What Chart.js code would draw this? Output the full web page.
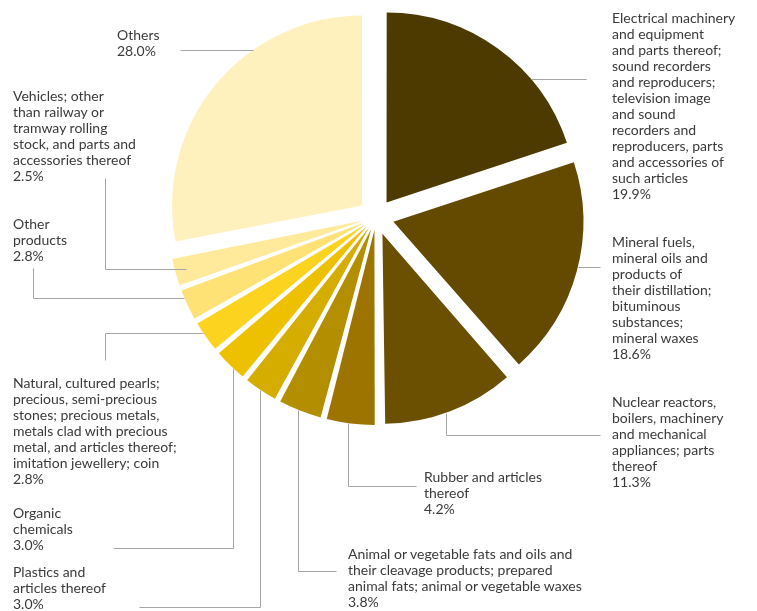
<!DOCTYPE html>
<html>
<head>
<meta charset="utf-8">
<script src="https://cdn.jsdelivr.net/npm/chart.js@4.4.1/dist/chart.umd.min.js"></script>
<style>
    body { margin: 0; background: #fff; }
    #wrap { position: relative; width: 757px; height: 611px; }
    .lbl {
        position: absolute;
        font-family: Lato, "Open Sans", sans-serif;
        font-size: 14px;
        line-height: 16px;
        color: #3a3a3a;
        white-space: nowrap;
    }
</style>
</head>
<body>
<div id="wrap"><canvas id="pieChart"></canvas></div>
<script>
// Data
const categories = [
    'Electrical machinery and equipment and parts thereof; sound recorders and reproducers; television image and sound recorders and reproducers, parts and accessories of such articles',
    'Mineral fuels, mineral oils and products of their distillation; bituminous substances; mineral waxes',
    'Nuclear reactors, boilers, machinery and mechanical appliances; parts thereof',
    'Rubber and articles thereof',
    'Animal or vegetable fats and oils and their cleavage products; prepared animal fats; animal or vegetable waxes',
    'Plastics and articles thereof',
    'Organic chemicals',
    'Natural, cultured pearls; precious, semi-precious stones; precious metals, metals clad with precious metal, and articles thereof; imitation jewellery; coin',
    'Other products',
    'Vehicles; other than railway or tramway rolling stock, and parts and accessories thereof',
    'Others'
];
const shares = [19.9, 18.6, 11.3, 4.2, 3.8, 3.0, 3.0, 2.8, 2.8, 2.5, 28.0];

// how the label text wraps
const labelLines = [
    ['Electrical machinery', 'and equipment', 'and parts thereof;', 'sound recorders', 'and reproducers;', 'television image', 'and sound', 'recorders and', 'reproducers, parts', 'and accessories of', 'such articles'],
    ['Mineral fuels,', 'mineral oils and', 'products of', 'their distillation;', 'bituminous', 'substances;', 'mineral waxes'],
    ['Nuclear reactors,', 'boilers, machinery', 'and mechanical', 'appliances; parts', 'thereof'],
    ['Rubber and articles', 'thereof'],
    ['Animal or vegetable fats and oils and', 'their cleavage products; prepared', 'animal fats; animal or vegetable waxes'],
    ['Plastics and', 'articles thereof'],
    ['Organic', 'chemicals'],
    ['Natural, cultured pearls;', 'precious, semi-precious', 'stones; precious metals,', 'metals clad with precious', 'metal, and articles thereof;', 'imitation jewellery; coin'],
    ['Other', 'products'],
    ['Vehicles; other', 'than railway or', 'tramway rolling', 'stock, and parts and', 'accessories thereof'],
    ['Others']
];

const sliceColors = ['#4d3a00', '#644a00', '#6a5000', '#9e7400', '#b38f00', '#d4ad00',
    '#edc100', '#fcd420', '#fee276', '#ffe99b', '#fff1bd'];

// Layout
// pulled-out distance and radius of each slice (small ones sit a bit closer)
const sliceShift = [18, 18, 18, 13, 13, 13, 13, 13, 13, 13, 18];
const sliceRadius = [190, 190, 190, 195, 195, 195, 195, 195, 195, 195, 190];

// label box left/top
const labelPos = [[612, 10], [612, 234], [612, 394], [424, 469], [348, 546], [13, 564],
    [13, 505], [13, 375], [13, 216], [13, 88], [117, 27]];

// leader lines: points from the label side, last one is joined to the slice edge
const leaders = [
    { pts: [[586, 79]], dir: 'h' },
    { pts: [[600, 267]], dir: 'h' },
    { pts: [[600, 435], [446, 435]], dir: 'v' },
    { pts: [[416, 486], [348, 486]], dir: 'v' },
    { pts: [[336, 571], [298, 571]], dir: 'v' },
    { pts: [[139, 607], [260, 607]], dir: 'v' },
    { pts: [[113, 548], [233, 548]], dir: 'v' },
    { pts: [[105, 360], [105, 333]], dir: 'h' },
    { pts: [[33, 268], [33, 298]], dir: 'h' },
    { pts: [[105, 178], [105, 269]], dir: 'h', inset: 11 },
    { pts: [[180, 50]], dir: 'h' }
];

// Chart.js grows small offset slices, set the radius back to what we want
const keepRadius = {
    id: 'keepRadius',
    beforeDatasetsDraw(chart) {
        chart.getDatasetMeta(0).data.forEach((arc, i) => {
            const fix = 1 - Math.sin(Math.min(Math.PI, arc.circumference));
            arc.outerRadius = sliceRadius[i] - sliceShift[i] * fix;
        });
    }
};

const leaderLines = {
    id: 'leaderLines',
    afterDatasetsDraw(chart) {
        const ctx = chart.ctx;
        const arcs = chart.getDatasetMeta(0).data;
        ctx.save();
        ctx.strokeStyle = '#a5a5a5';
        ctx.lineWidth = 1;
        leaders.forEach((ld, i) => {
            const arc = arcs[i];
            const r = sliceRadius[i];
            const mid = (arc.startAngle + arc.endAngle) / 2;
            const cx = arc.x + Math.cos(mid) * sliceShift[i];
            const cy = arc.y + Math.sin(mid) * sliceShift[i];
            const last = ld.pts[ld.pts.length - 1];
            const inset = ld.inset || 0;
            let edge;
            if (ld.dir === 'h') {
                const dx = Math.sqrt(r * r - (last[1] - cy) ** 2) - inset;
                edge = [last[0] < cx ? cx - dx : cx + dx, last[1]];
            } else {
                const dy = Math.sqrt(r * r - (last[0] - cx) ** 2) - inset;
                edge = [last[0], cy + dy];
            }
            const pts = ld.pts.concat([edge]);
            ctx.beginPath();
            pts.forEach((p, k) => {
                const x = Math.round(p[0]) + 0.5;
                const y = Math.round(p[1]) + 0.5;
                if (k === 0) ctx.moveTo(x, y); else ctx.lineTo(x, y);
            });
            ctx.stroke();
        });
        ctx.restore();
    }
};

new Chart(document.getElementById('pieChart'), {
    type: 'pie',
    data: {
        labels: categories,
        datasets: [{
            data: shares,
            backgroundColor: sliceColors,
            borderWidth: 0,
            offset: sliceShift.map(s => s * 4), // arc draws offset / 4
            hoverOffset: 0
        }]
    },
    options: {
        responsive: true,
        maintainAspectRatio: false,
        animation: false,
        events: [],
        radius: 190,
        layout: { padding: { left: 0, right: 5, top: 0, bottom: 177 } },
        plugins: {
            legend: { display: false },
            tooltip: { enabled: false }
        }
    },
    plugins: [keepRadius, leaderLines]
});

// Text labels
const wrap = document.getElementById('wrap');
labelLines.forEach((lines, i) => {
    const div = document.createElement('div');
    div.className = 'lbl';
    div.style.left = labelPos[i][0] + 'px';
    div.style.top = labelPos[i][1] + 'px';
    div.innerHTML = lines.concat([shares[i].toFixed(1) + '%']).join('<br>');
    wrap.appendChild(div);
});
</script>
</body>
</html>
